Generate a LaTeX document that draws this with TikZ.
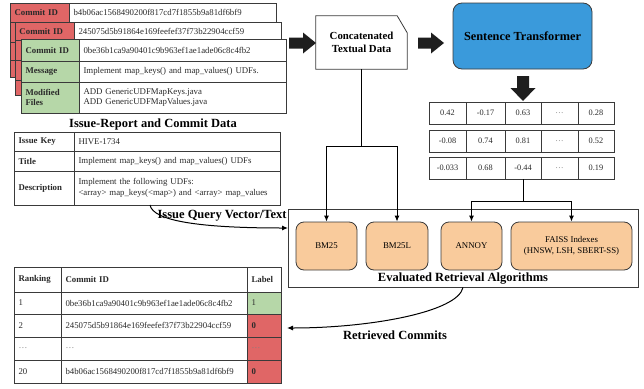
\documentclass[tikz,border=0pt]{standalone}
\usepackage{fontspec}
\setmainfont{Liberation Serif}
\usetikzlibrary{arrows.meta}
\definecolor{lred}{HTML}{E06666}
\definecolor{lgreen}{HTML}{B6D7A8}
\definecolor{stblue}{HTML}{3A9ADB}
\definecolor{peach}{HTML}{F9CB9C}
\definecolor{bord}{HTML}{3A3A3A}
\definecolor{blk}{HTML}{1E1E1E}
\definecolor{txt}{HTML}{2A2A2A}
\newcommand\mycell[7]{%
  \pgfmathsetlengthmacro\mytw{#4pt-9pt}%
  \node[cellbase,minimum width=#4pt,minimum height=#5pt,text width=\mytw,#6] (#1) at (#2,#3) {#7};}
\tikzset{
  cellbase/.style={draw=bord, fill=white, line width=0.8pt, anchor=north west, inner xsep=4.5pt, inner ysep=0pt,
    outer sep=0pt, font=\fontsize{8.8}{10.5}\selectfont, align=left, text=txt},
  lab/.style={font=\fontsize{8.8}{10.5}\selectfont\bfseries},
  vcell/.style={align=center, font=\fontsize{8.3}{10}\selectfont},
  title/.style={font=\fontsize{12.5}{14}\selectfont\bfseries, inner sep=0pt},
  blockarrow/.style={fill=blk, draw=none},
  algo/.style={draw=bord, line width=0.8pt, fill=peach, rounded corners=8pt, minimum height=48pt,
    inner sep=0pt, align=center, font=\fontsize{8.8}{10.5}\selectfont},
  conn/.style={line width=1pt, -{Latex[length=6pt,width=5pt]}},
}
\begin{document}
\begin{tikzpicture}[x=1pt,y=-1pt]
\useasboundingbox (0,0) rectangle (644,388);
% ---- back commit card 1
\mycell{ca1}{10}{3}{59}{19}{fill=lred,lab}{Commit ID}
\mycell{cb1}{69}{3}{207}{19}{}{b4b06ac1568490200f817cd7f1855b9a81df6bf9}
\mycell{ca2}{10}{22}{59}{20}{fill=lred}{}
\mycell{cb2}{69}{22}{207}{20}{}{}
\mycell{ca3}{10}{42}{59}{18}{fill=lred}{}
\mycell{cb3}{69}{42}{207}{18}{}{}
\mycell{ca4}{10}{60}{59}{17}{fill=lred}{}
\mycell{cb4}{69}{60}{207}{17}{}{}
% ---- back commit card 2
\mycell{da1}{15}{22}{59}{18}{fill=lred,lab}{Commit ID}
\mycell{db1}{74}{22}{207}{18}{}{245075d5b91864e169feefef37f73b22904ccf59}
\mycell{da2}{15}{40}{59}{20}{fill=lred}{}
\mycell{db2}{74}{40}{207}{20}{}{}
\mycell{da3}{15}{60}{59}{20}{fill=lred}{}
\mycell{db3}{74}{60}{207}{20}{}{}
\mycell{da4}{15}{80}{59}{15}{fill=lred}{}
\mycell{db4}{74}{80}{207}{15}{}{}
% ---- front commit card
\mycell{fa1}{21}{39}{58}{22}{fill=lgreen,lab}{Commit ID}
\mycell{fb1}{79}{39}{207}{22}{}{0be36b1ca9a90401c9b963ef1ae1ade06c8c4fb2}
\mycell{fa2}{21}{61}{58}{21}{fill=lgreen,lab}{Message}
\mycell{fb2}{79}{61}{207}{21}{}{Implement map\_keys() and map\_values() UDFs.}
\mycell{fa3}{21}{82}{58}{31}{fill=lgreen,lab}{Modified\\Files}
\mycell{fb3}{79}{82}{207}{31}{}{ADD GenericUDFMapKeys.java\\ADD GenericUDFMapValues.java}
\node[title] (t1) at (153,124) {Issue-Report and Commit Data};
% ---- issue table
\mycell{ia1}{14}{132}{60}{19}{lab}{Issue Key}
\mycell{ib1}{74}{132}{206}{19}{}{HIVE-1734}
\mycell{ia2}{14}{151}{60}{20}{lab}{Title}
\mycell{ib2}{74}{151}{206}{20}{}{Implement map\_keys() and map\_values() UDFs}
\mycell{ia3}{14}{171}{60}{34}{lab}{Description}
\mycell{ib3}{74}{171}{206}{34}{}{Implement the following UDFs:\\<array> map\_keys(<map>) and <array> map\_values}
\node[title] (t2) at (222,216) {Issue Query Vector/Text};
% ---- concatenated
\node[minimum width=91pt, minimum height=53pt, inner sep=0pt, align=center,
  font=\fontsize{10.8}{12.5}\selectfont\bfseries] (concat) at (361.5,42.5) {Concatenated\\Textual Data};
\draw[draw=bord, line width=0.8pt] (concat.north west) -- ([xshift=-10pt]concat.north east)
  -- ([yshift=-17pt]concat.north east) -- (concat.south east) -- (concat.south west) -- cycle;
% ---- sentence transformer
\node[draw=bord, line width=0.8pt, fill=stblue, rounded corners=9pt, minimum width=139pt, minimum height=66pt,
  font=\fontsize{12.3}{14}\selectfont\bfseries, inner sep=0pt] (st) at (522.5,36) {Sentence Transformer};
% ---- block arrows
\coordinate (a1tip) at (316,43);
\coordinate (a2tip) at (444,43);
\coordinate (a3tip) at (523,101);
\fill[blockarrow] (a1tip) -- ++(-13,-10.5) -- ++(0,5) -- ++(-14,0) -- ++(0,11) -- ++(14,0) -- ++(0,5) -- cycle;
\fill[blockarrow] (a2tip) -- ++(-13,-10.5) -- ++(0,5) -- ++(-13,0) -- ++(0,11) -- ++(13,0) -- ++(0,5) -- cycle;
\fill[blockarrow] (a3tip) -- ++(-12.5,-13) -- ++(6.5,0) -- ++(0,-12) -- ++(12,0) -- ++(0,12) -- ++(6.5,0) -- cycle;
% ---- vectors
\foreach \r/\yy/\a/\b/\c/\e in {1/102/0.42/-0.17/0.63/0.28, 2/130/-0.08/0.74/0.81/0.52, 3/157/-0.033/0.68/-0.44/0.19}{
  \mycell{v\r a}{429}{\yy}{37}{22}{vcell}{\a}
  \mycell{v\r b}{466}{\yy}{39}{22}{vcell}{\b}
  \mycell{v\r c}{505}{\yy}{36}{22}{vcell}{\c}
  \mycell{v\r d}{541}{\yy}{37}{22}{vcell,text=gray}{\dots}
  \mycell{v\r e}{578}{\yy}{36}{22}{vcell}{\e}
}
% ---- evaluated algorithms
\node[draw=bord, line width=0.8pt, minimum width=350pt, minimum height=78pt, inner sep=0pt] (evalbox) at (463,248) {};
\node[title] (t3) at (463,279) {Evaluated Retrieval Algorithms};
\node[algo, minimum width=61pt] (bm25) at (326.5,246) {BM25};
\node[algo, minimum width=62pt] (bm25l) at (397,246) {BM25L};
\node[algo, minimum width=61pt] (annoy) at (471.5,246) {ANNOY};
\node[algo, minimum width=121pt] (faiss) at (571.5,246) {FAISS Indexes\\(HNSW, LSH, SBERT-SS)};
% ---- connectors
\coordinate (j1) at (361.5,146);
\draw[line width=1pt] (concat.south) -- (j1);
\draw[conn] (j1) -| (bm25.north);
\draw[conn] (j1) -| (bm25l.north);
\coordinate (j2) at (523,201);
\draw[line width=1pt] (v3c.south) -- (j2);
\draw[conn] (j2) -| (annoy.north);
\draw[conn] (j2) -| (faiss.north);
\coordinate (q0) at (150,205);
\coordinate (q1) at (288,228);
\draw[conn] (q0) .. controls (153,221) and (200,228) .. (q1);
\coordinate (r1) at (287,328);
\draw[conn] (evalbox.south) .. controls (458,312) and (370,328) .. (r1);
\node[title] (t4) at (395,335) {Retrieved Commits};
% ---- result table
\mycell{ra0}{14}{267}{47}{25}{lab}{Ranking}
\mycell{rb0}{61}{267}{186}{25}{lab}{Commit ID}
\mycell{rc0}{247}{267}{34}{25}{lab}{Label}
\mycell{ra1}{14}{292}{47}{22}{}{1}
\mycell{rb1}{61}{292}{186}{22}{}{0be36b1ca9a90401c9b963ef1ae1ade06c8c4fb2}
\mycell{rc1}{247}{292}{34}{22}{fill=lgreen}{1}
\mycell{ra2}{14}{314}{47}{23}{}{2}
\mycell{rb2}{61}{314}{186}{23}{}{245075d5b91864e169feefef37f73b22904ccf59}
\mycell{rc2}{247}{314}{34}{23}{fill=lred,lab}{0}
\mycell{ra3}{14}{337}{47}{23}{text=gray}{\dots}
\mycell{rb3}{61}{337}{186}{23}{text=gray}{\dots}
\mycell{rc3}{247}{337}{34}{23}{fill=lred,text=gray}{\dots}
\mycell{ra4}{14}{360}{47}{23}{}{20}
\mycell{rb4}{61}{360}{186}{23}{}{b4b06ac1568490200f817cd7f1855b9a81df6bf9}
\mycell{rc4}{247}{360}{34}{23}{fill=lred,lab}{0}
\end{tikzpicture}
\end{document}
